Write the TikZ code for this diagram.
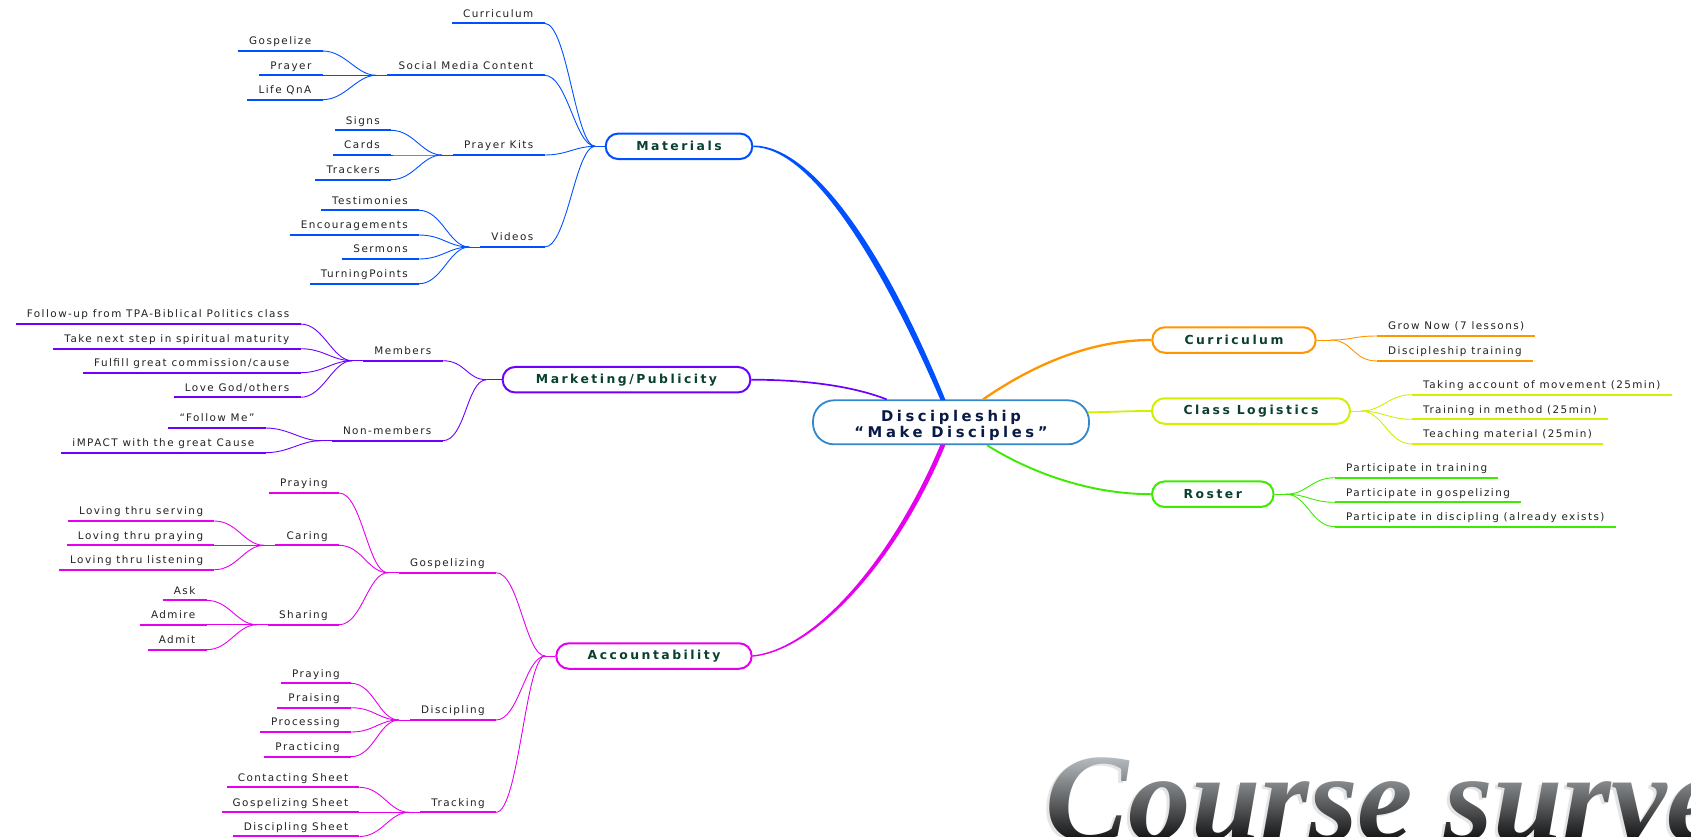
\documentclass[tikz,border=0pt]{standalone}
\usepackage{fontspec}
\usetikzlibrary{calc,fadings}
\newfontfamily\leaffont[LetterSpace=14]{DejaVu Sans}
\newfontfamily\ttlfont[LetterSpace=20]{DejaVu Sans}
\newfontfamily\ctrfont[LetterSpace=24]{DejaVu Sans}
\newfontfamily\bigserif{Liberation Serif}
\definecolor{mblue}{RGB}{0,80,255}
\definecolor{mviolet}{RGB}{110,0,255}
\definecolor{mmag}{RGB}{230,0,240}
\definecolor{morange}{RGB}{255,150,0}
\definecolor{myellow}{RGB}{210,240,0}
\definecolor{mgreen}{RGB}{60,235,0}
\definecolor{cblue}{RGB}{51,136,204}
\definecolor{ttlgreen}{RGB}{10,64,48}
\definecolor{ctrnavy}{RGB}{10,26,70}
\definecolor{leafgray}{RGB}{34,34,34}
\definecolor{csTop}{RGB}{200,206,210}
\definecolor{csMid}{RGB}{105,114,118}
\definecolor{csBot}{RGB}{5,5,5}
\begin{tikzfadingfrompicture}[name=coursefade]
\path[use as bounding box] (-900pt,-200pt) rectangle (900pt,200pt);
\node[anchor=base west, inner sep=0pt, text=transparent!0, font=\bigserif\bfseries\itshape\fontsize{125}{125}\selectfont] at (0,0) {Course survey};
\end{tikzfadingfrompicture}
\tikzset{
  leaf/.style={font=\leaffont\fontsize{10.4}{12}\selectfont, text=leafgray, inner xsep=11pt, inner ysep=6pt, text height=7.5pt, text depth=0pt},
  ul/.style={line width=2.3pt, draw=#1},
  br/.style={line width=0.9pt, draw=#1},
  box/.style={draw=#1, line width=2pt, fill=white, rounded corners=12.5pt, minimum height=25.5pt, inner sep=0pt, font=\ttlfont\bfseries\fontsize{12.4}{14}\selectfont, text=ttlgreen},
  cbox/.style={draw=cblue, line width=1.8pt, fill=white, rounded corners=21pt, minimum width=276pt, minimum height=44pt, inner sep=0pt, align=center, font=\ctrfont\bfseries\fontsize{14.8}{15.6}\selectfont, text=ctrnavy},
  bigtxt/.style={anchor=base west, inner sep=0pt, font=\bigserif\bfseries\itshape\fontsize{125}{125}\selectfont}
}
\newcommand{\Lleaf}[5]{\node[leaf, anchor=south east] (#1) at (#2,#3) {#5};
  \draw[ul=#4] (#1.south west) -- (#1.south east);}
\newcommand{\Rleaf}[5]{\node[leaf, anchor=south west] (#1) at (#2,#3) {#5};
  \draw[ul=#4] (#1.south west) -- (#1.south east);}
\newcommand{\Lconn}[3]{\draw[br=#3] (#1.south east) .. controls +(23,0) and +(-20,0) .. (#2);}
\newcommand{\Rconn}[3]{\draw[br=#3] (#2) .. controls +(22,0) and +(-24,0) .. (#1.south west);}
\newcommand{\Ljunc}[3]{\coordinate (#2) at ($(#1.south west)+(-11,0)$); \draw[br=#3] (#2) -- (#1.south west);}
\begin{document}
\begin{tikzpicture}[x=1pt,y=-1pt]
\useasboundingbox (0,0) rectangle (1691,836);
\fill[white] (0,0) rectangle (1691,836);

% big title
\node[bigtxt, text=black!10] (csh) at (1042,842) {Course survey};
\shade[top color=csTop, middle color=csMid, bottom color=csBot, path fading=coursefade, fit fading=false, fading transform={shift={(1045,840)}}] (1030,748) rectangle (1800,846);

% central and main nodes
\node[cbox] (c) at (951,422.3) {\rule{0pt}{17pt}Discipleship\\“Make Disciples”};
\node[box=mblue, minimum width=146.6pt] (mat) at (679,146.3) {Materials};
\node[box=mviolet, minimum width=247.7pt] (mkt) at (626.5,379.7) {Marketing/Publicity};
\node[box=mmag, minimum width=195.3pt] (acc) at (654,656) {Accountability};
\node[box=morange, minimum width=163.4pt] (cur) at (1234,340) {Curriculum};
\node[box=myellow, minimum width=198pt] (cls) at (1251,411) {Class Logistics};
\node[box=mgreen, minimum width=121.5pt] (ros) at (1212.8,494.2) {Roster};

% main connectors
\fill[mblue] ($(mat.east)+(0,-0.8)$) .. controls (812,145.5) and (884,249) .. ($(c.north)+(-5.5,0.6)$) -- ($(c.north)+(-10.5,0.6)$) .. controls (876,251) and (808,147.1) .. ($(mat.east)+(0,0.8)$) -- cycle;
\fill[mmag] ($(acc.east)+(0,0.7)$) .. controls (816,650.7) and (898,560) .. ($(c.south)+(-5.5,-0.6)$) -- ($(c.south)+(-10.5,-0.6)$) .. controls (892,560) and (814,649.3) .. ($(acc.east)+(0,-0.7)$) -- cycle;
\draw[mviolet, line width=1.7pt] (mkt.east) .. controls (800,379.7) and (850,385) .. ($(c.north)+(-64.3,0)$);
\draw[morange, line width=2.3pt] ($(c.north)+(32,0)$) .. controls (1020,374) and (1080,340) .. (cur.west);
\draw[myellow, line width=1.8pt] ($(c.east)+(-2,-10)$) .. controls (1115,412) and (1125,411) .. (cls.west);
\draw[mgreen, line width=1.9pt] ($(c.south)+(36,0)$) .. controls (1020,466) and (1080,494) .. (ros.west);

% ---------- Materials
\coordinate (jmat) at ($(mat.west)+(-9.5,0)$);
\draw[br=mblue] (jmat) -- (mat.west);
\Lleaf{m1}{544.5}{23.3}{mblue}{Curriculum}
\Lleaf{m2}{544.5}{75.3}{mblue}{Social Media Content}
\Lleaf{m3}{544.5}{155}{mblue}{Prayer Kits}
\Lleaf{m4}{544.5}{247}{mblue}{Videos}
\Lconn{m1}{jmat}{mblue}\Lconn{m2}{jmat}{mblue}\Lconn{m3}{jmat}{mblue}\Lconn{m4}{jmat}{mblue}
\Ljunc{m2}{jm2}{mblue}
\Lleaf{m2a}{322.5}{51}{mblue}{Gospelize}
\Lleaf{m2b}{322.5}{75.3}{mblue}{Prayer}
\Lleaf{m2c}{322.5}{99.7}{mblue}{Life QnA}
\Lconn{m2a}{jm2}{mblue}\Lconn{m2b}{jm2}{mblue}\Lconn{m2c}{jm2}{mblue}
\Ljunc{m3}{jm3}{mblue}
\Lleaf{m3a}{391}{130.3}{mblue}{Signs}
\Lleaf{m3b}{391}{155}{mblue}{Cards}
\Lleaf{m3c}{391}{179.7}{mblue}{Trackers}
\Lconn{m3a}{jm3}{mblue}\Lconn{m3b}{jm3}{mblue}\Lconn{m3c}{jm3}{mblue}
\Ljunc{m4}{jm4}{mblue}
\Lleaf{m4a}{419}{210.3}{mblue}{Testimonies}
\Lleaf{m4b}{419}{235}{mblue}{Encouragements}
\Lleaf{m4c}{419}{259}{mblue}{Sermons}
\Lleaf{m4d}{419}{283.7}{mblue}{TurningPoints}
\Lconn{m4a}{jm4}{mblue}\Lconn{m4b}{jm4}{mblue}\Lconn{m4c}{jm4}{mblue}\Lconn{m4d}{jm4}{mblue}

% ---------- Marketing
\coordinate (jmkt) at ($(mkt.west)+(-15,0)$);
\draw[br=mviolet] (jmkt) -- (mkt.west);
\Lleaf{k1}{442.6}{360.7}{mviolet}{Members}
\Lleaf{k2}{442.6}{440.7}{mviolet}{Non-members}
\Lconn{k1}{jmkt}{mviolet}\Lconn{k2}{jmkt}{mviolet}
\Ljunc{k1}{jk1}{mviolet}
\Lleaf{k1a}{300.5}{324}{mviolet}{Follow-up from TPA-Biblical Politics class}
\Lleaf{k1b}{300.5}{348.7}{mviolet}{Take next step in spiritual maturity}
\Lleaf{k1c}{300.5}{372.7}{mviolet}{Fulfill great commission/cause}
\Lleaf{k1d}{300.5}{397.3}{mviolet}{Love God/others}
\Lconn{k1a}{jk1}{mviolet}\Lconn{k1b}{jk1}{mviolet}\Lconn{k1c}{jk1}{mviolet}\Lconn{k1d}{jk1}{mviolet}
\Ljunc{k2}{jk2}{mviolet}
\Lleaf{k2a}{265.6}{428}{mviolet}{“Follow Me”}
\Lleaf{k2b}{265.6}{452.7}{mviolet}{iMPACT with the great Cause}
\Lconn{k2a}{jk2}{mviolet}\Lconn{k2b}{jk2}{mviolet}

% ---------- Accountability
\coordinate (jacc) at ($(acc.west)+(-10,0)$);
\draw[br=mmag] (jacc) -- (acc.west);
\Lleaf{a1}{496}{572.7}{mmag}{Gospelizing}
\Lleaf{a2}{496}{720}{mmag}{Discipling}
\Lleaf{a3}{496}{812.3}{mmag}{Tracking}
\Lconn{a1}{jacc}{mmag}\Lconn{a2}{jacc}{mmag}\Lconn{a3}{jacc}{mmag}
\Ljunc{a1}{ja1}{mmag}
\Lleaf{a1a}{339}{493}{mmag}{Praying}
\Lleaf{a1b}{339}{545.3}{mmag}{Caring}
\Lleaf{a1c}{339}{624.7}{mmag}{Sharing}
\Lconn{a1a}{ja1}{mmag}\Lconn{a1b}{ja1}{mmag}\Lconn{a1c}{ja1}{mmag}
\Ljunc{a1b}{ja1b}{mmag}
\Lleaf{a1b1}{214.3}{521}{mmag}{Loving thru serving}
\Lleaf{a1b2}{214.3}{545.3}{mmag}{Loving thru praying}
\Lleaf{a1b3}{214.3}{569.7}{mmag}{Loving thru listening}
\Lconn{a1b1}{ja1b}{mmag}\Lconn{a1b2}{ja1b}{mmag}\Lconn{a1b3}{ja1b}{mmag}
\Ljunc{a1c}{ja1c}{mmag}
\Lleaf{a1c1}{206.5}{600.3}{mmag}{Ask}
\Lleaf{a1c2}{206.5}{624.7}{mmag}{Admire}
\Lleaf{a1c3}{206.5}{649.7}{mmag}{Admit}
\Lconn{a1c1}{ja1c}{mmag}\Lconn{a1c2}{ja1c}{mmag}\Lconn{a1c3}{ja1c}{mmag}
\Ljunc{a2}{ja2}{mmag}
\Lleaf{a2a}{351}{683.3}{mmag}{Praying}
\Lleaf{a2b}{351}{707.7}{mmag}{Praising}
\Lleaf{a2c}{351}{732}{mmag}{Processing}
\Lleaf{a2d}{351}{756.7}{mmag}{Practicing}
\Lconn{a2a}{ja2}{mmag}\Lconn{a2b}{ja2}{mmag}\Lconn{a2c}{ja2}{mmag}\Lconn{a2d}{ja2}{mmag}
\Ljunc{a3}{ja3}{mmag}
\Lleaf{a3a}{359.3}{787.3}{mmag}{Contacting Sheet}
\Lleaf{a3b}{359.3}{812.3}{mmag}{Gospelizing Sheet}
\Lleaf{a3c}{359.3}{836.5}{mmag}{Discipling Sheet}
\Lconn{a3a}{ja3}{mmag}\Lconn{a3b}{ja3}{mmag}\Lconn{a3c}{ja3}{mmag}

% ---------- Curriculum
\coordinate (jcur) at ($(cur.east)+(14,0)$);
\draw[br=morange] (cur.east) -- (jcur);
\Rleaf{c1}{1377}{336}{morange}{Grow Now (7 lessons)}
\Rleaf{c2}{1377}{361}{morange}{Discipleship training}
\Rconn{c1}{jcur}{morange}\Rconn{c2}{jcur}{morange}

% ---------- Class Logistics
\coordinate (jcls) at ($(cls.east)+(10,0)$);
\draw[br=myellow] (cls.east) -- (jcls);
\Rleaf{l1}{1412}{394.7}{myellow}{Taking account of movement (25min)}
\Rleaf{l2}{1412}{419.3}{myellow}{Training in method (25min)}
\Rleaf{l3}{1412}{444}{myellow}{Teaching material (25min)}
\Rconn{l1}{jcls}{myellow}\Rconn{l2}{jcls}{myellow}\Rconn{l3}{jcls}{myellow}

% ---------- Roster
\coordinate (jros) at ($(ros.east)+(11,0)$);
\draw[br=mgreen] (ros.east) -- (jros);
\Rleaf{r1}{1335}{477.7}{mgreen}{Participate in training}
\Rleaf{r2}{1335}{502.3}{mgreen}{Participate in gospelizing}
\Rleaf{r3}{1335}{526.7}{mgreen}{Participate in discipling (already exists)}
\Rconn{r1}{jros}{mgreen}\Rconn{r2}{jros}{mgreen}\Rconn{r3}{jros}{mgreen}
\end{tikzpicture}
\end{document}
